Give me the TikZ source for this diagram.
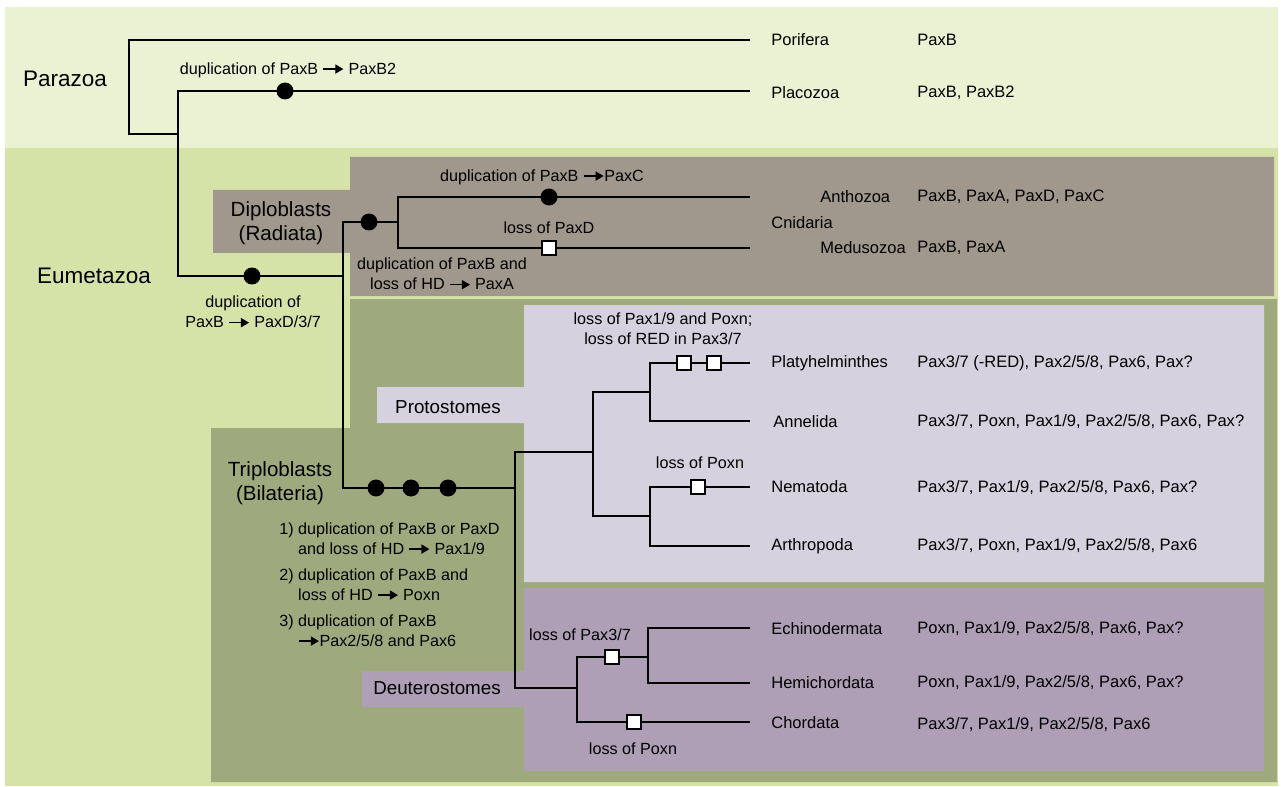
\documentclass[tikz,border=0pt]{standalone}
\usepackage{fontspec}
\setmainfont{Liberation Sans}
\usetikzlibrary{positioning,arrows.meta}

\definecolor{parabg}{HTML}{EBF2D3}
\definecolor{eumebg}{HTML}{D5E3A8}
\definecolor{diplobg}{HTML}{A0978D}
\definecolor{triplobg}{HTML}{9EAA7E}
\definecolor{protobg}{HTML}{D6D1DF}
\definecolor{deutbg}{HTML}{AE9FB6}

\newcommand{\arr}{\tikz[baseline=-0.6ex]{\draw[line width=0.8pt,-{Triangle[length=4.6pt,width=5.2pt]}] (0cm,0cm) -- (0.40cm,0cm);}}

\tikzset{
  branch/.style={line width=1.6pt},
  dupdot/.style={circle, fill=black, inner sep=0pt, minimum size=0.34cm},
  lossbox/.style={rectangle, draw=black, fill=white, line width=1.1pt, inner sep=0pt, minimum size=0.27cm},
  taxon/.style={anchor=west, inner sep=0pt, font=\fontsize{9.4}{11}\selectfont},
  genes/.style={anchor=west, inner sep=0pt, font=\fontsize{9.4}{11}\selectfont},
  note/.style={align=center, inner sep=0pt, font=\fontsize{9.2}{11.4}\selectfont},
  listitem/.style={anchor=west, align=left, inner sep=0pt, font=\fontsize{9.2}{11.4}\selectfont},
  bigclade/.style={inner sep=0pt, font=\fontsize{12.8}{15}\selectfont},
  clade/.style={align=center, inner sep=0pt, font=\fontsize{11.7}{13.6}\selectfont},
  subclade/.style={inner sep=0pt, font=\fontsize{10.7}{13}\selectfont},
}

\begin{document}
\begin{tikzpicture}[x=0.02cm, y=-0.02cm]
  \useasboundingbox (0,0) rectangle (1281,787);

  % Backgrounds
  \fill[parabg] (5,7) rectangle (1278,148);
  \fill[eumebg] (5,148) rectangle (1278,786);
  \fill[diplobg] (350,157) -- (1274,157) -- (1274,296) -- (350,296) -- (350,253)
    -- (213,253) -- (213,190) -- (350,190) -- cycle;
  \fill[triplobg] (350,299) -- (1277,299) -- (1277,782) -- (211,782) -- (211,428)
    -- (350,428) -- cycle;
  \fill[protobg] (524,305) -- (1264,305) -- (1264,582) -- (524,582) -- (524,423)
    -- (377,423) -- (377,387) -- (524,387) -- cycle;
  \fill[deutbg] (524,588) -- (1264,588) -- (1264,771) -- (524,771) -- (524,707)
    -- (362,707) -- (362,671) -- (524,671) -- cycle;

  % Branch points
  \coordinate (root) at (129,134);
  \coordinate (eumeta) at (178,134);
  \coordinate (eumcorner) at (178,276);
  \coordinate (bilat0) at (343,276);
  \coordinate (diplo) at (398,222);
  \coordinate (bilat) at (515,488);
  \coordinate (proto) at (593,452);
  \coordinate (platann) at (650,392);
  \coordinate (nemart) at (650,516);
  \coordinate (deut) at (577,688);
  \coordinate (echhem) at (648,657);

  % Tips
  \coordinate (tPor) at (750,40);
  \coordinate (tPla) at (750,91);
  \coordinate (tAnt) at (750,197);
  \coordinate (tMed) at (750,248);
  \coordinate (tPlat) at (750,363);
  \coordinate (tAnn) at (750,421);
  \coordinate (tNem) at (750,487);
  \coordinate (tArt) at (750,546);
  \coordinate (tEch) at (750,628);
  \coordinate (tHem) at (750,683);
  \coordinate (tCho) at (750,722);

  % Tree
  \draw[branch] (tPor) -| (root) -- (eumeta);
  \draw[branch] (tPla) -| (eumcorner) -- (bilat0);
  \draw[branch] (diplo) -| (bilat0) |- (bilat);
  \draw[branch] (tAnt) -| (diplo) |- (tMed);
  \draw[branch] (proto) -| (bilat) |- (deut);
  \draw[branch] (platann) -| (proto) |- (nemart);
  \draw[branch] (tPlat) -| (platann) |- (tAnn);
  \draw[branch] (tNem) -| (nemart) |- (tArt);
  \draw[branch] (echhem) -| (deut) |- (tCho);
  \draw[branch] (tEch) -| (echhem) |- (tHem);

  % Duplications
  \node[dupdot] (dPaxB2) at (285,91) {};
  \node[dupdot] (dPaxD) at (252,276) {};
  \node[dupdot] (dPaxA) at (369,222) {};
  \node[dupdot] (dPaxC) at (549,197) {};
  \node[dupdot] (dBil1) at (376,488) {};
  \node[dupdot] (dBil2) at (411,488) {};
  \node[dupdot] (dBil3) at (448,488) {};

  % Losses
  \node[lossbox] (lPaxD) at (549,248) {};
  \node[lossbox] (lPlat1) at (684,363) {};
  \node[lossbox] (lPlat2) at (714,363) {};
  \node[lossbox] (lNem) at (698,487) {};
  \node[lossbox] (lPax37) at (612,657) {};
  \node[lossbox] (lPoxn) at (634,722) {};

  % Event labels
  \node[note] (nPaxB2) at (288,70) {duplication of PaxB \arr\ PaxB2};
  \node[note] (nPaxD) at (253,312) {duplication of\\PaxB \arr\ PaxD/3/7};
  \node[note] (nPaxA) at (442,274) {duplication of PaxB and\\loss of HD \arr\ PaxA};
  \node[note] (nPaxC) at (542,177) {duplication of PaxB \arr PaxC};
  \node[note] (nLossD) at (549,228) {loss of PaxD};
  \node[note] (nPlat) at (663,329) {loss of Pax1/9 and Poxn;\\loss of RED in Pax3/7};
  \node[note] (nNem) at (700,463) {loss of Poxn};
  \node[note] (nPax37) at (580,635) {loss of Pax3/7};
  \node[note] (nCho) at (633,749) {loss of Poxn};
  \node[listitem] (item1) at (279,540) {1) duplication of PaxB or PaxD\\\phantom{1) }and loss of HD \arr\ Pax1/9};
  \node[listitem] (item2) at (279,586) {2) duplication of PaxB and\\\phantom{2) }loss of HD \arr\ Poxn};
  \node[listitem] (item3) at (279,632) {3) duplication of PaxB\\\phantom{3) }\arr Pax2/5/8 and Pax6};

  % Clades
  \node[bigclade] (parazoa) at (65,79) {Parazoa};
  \node[bigclade] (eumetazoa) at (94,276) {Eumetazoa};
  \node[clade] (diploblasts) at (281,223) {Diploblasts\\(Radiata)};
  \node[clade] (triploblasts) at (280,483) {Triploblasts\\(Bilateria)};
  \node[subclade] (protostomes) at (448,407) {Protostomes};
  \node[subclade] (deuterostomes) at (437,688) {Deuterostomes};

  % Taxa
  \node[taxon] (porifera) at (771,40) {Porifera};
  \node[taxon] (placozoa) at (771,93) {Placozoa};
  \node[taxon] (anthozoa) at (820,197) {Anthozoa};
  \node[taxon] (cnidaria) at (771,223) {Cnidaria};
  \node[taxon] (medusozoa) at (820,248) {Medusozoa};
  \node[taxon] (platy) at (771,363) {Platyhelminthes};
  \node[taxon] (annelida) at (773,422) {Annelida};
  \node[taxon] (nematoda) at (771,487) {Nematoda};
  \node[taxon] (arthropoda) at (771,546) {Arthropoda};
  \node[taxon] (echino) at (771,629) {Echinodermata};
  \node[taxon] (hemi) at (771,683) {Hemichordata};
  \node[taxon] (chordata) at (771,723) {Chordata};

  % Pax genes
  \node[genes] (gPor) at (917,40) {PaxB};
  \node[genes] (gPla) at (917,93) {PaxB, PaxB2};
  \node[genes] (gAnt) at (917,197) {PaxB, PaxA, PaxD, PaxC};
  \node[genes] (gMed) at (917,248) {PaxB, PaxA};
  \node[genes] (gPlat) at (917,363) {Pax3/7 (-RED), Pax2/5/8, Pax6, Pax?};
  \node[genes] (gAnn) at (917,422) {Pax3/7, Poxn, Pax1/9, Pax2/5/8, Pax6, Pax?};
  \node[genes] (gNem) at (917,488) {Pax3/7, Pax1/9, Pax2/5/8, Pax6, Pax?};
  \node[genes] (gArt) at (917,546) {Pax3/7, Poxn, Pax1/9, Pax2/5/8, Pax6};
  \node[genes] (gEch) at (917,629) {Poxn, Pax1/9, Pax2/5/8, Pax6, Pax?};
  \node[genes] (gHem) at (917,683) {Poxn, Pax1/9, Pax2/5/8, Pax6, Pax?};
  \node[genes] (gCho) at (917,725) {Pax3/7, Pax1/9, Pax2/5/8, Pax6};
\end{tikzpicture}
\end{document}
